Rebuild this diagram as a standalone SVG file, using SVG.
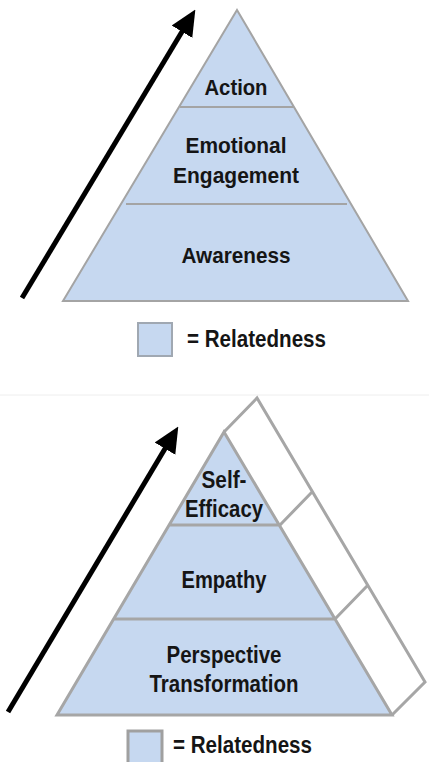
<svg xmlns="http://www.w3.org/2000/svg" width="429" height="762" viewBox="0 0 429 762">
<style>
.blue{fill:#c6d8f0;}
.t{font-family:"Liberation Sans",Arial,sans-serif;font-weight:bold;font-size:22px;fill:#151515;text-anchor:middle;}
.b{font-size:23px;}
.lg{font-family:"Liberation Sans",Arial,sans-serif;font-weight:bold;font-size:24px;fill:#151515;}
.g1{stroke:#a4a4a4;stroke-width:2;fill:none;}
.g2{stroke:#a6a6a6;stroke-width:3;fill:none;stroke-linejoin:miter;}
.arr{stroke:#000;stroke-width:5;fill:none;marker-end:url(#ah);}
</style>
<defs>
<marker id="ah" markerUnits="userSpaceOnUse" markerWidth="26" markerHeight="26" viewBox="0 0 26 26" refX="2" refY="13" orient="auto">
<path d="M0,1 L26,13 L0,25 z" fill="#000"/>
</marker>
</defs>
<rect width="429" height="762" fill="#fff"/>

<g id="top-pyramid">
<path class="blue" d="M237,10 L408,301 L63,301 Z"/>
<path class="g1" d="M237,10 L408,301 L63,301 Z M180,107 L294,107 M126,204 L347,204"/>
</g>
<g id="action"><text class="t" x="236" y="95" textLength="63" lengthAdjust="spacingAndGlyphs">Action</text></g>
<g id="emotional-engagement">
<text class="t" x="236" y="153" textLength="101" lengthAdjust="spacingAndGlyphs">Emotional</text>
<text class="t" x="236" y="183" textLength="126" lengthAdjust="spacingAndGlyphs">Engagement</text>
</g>
<g id="awareness"><text class="t" x="236" y="263" textLength="109" lengthAdjust="spacingAndGlyphs">Awareness</text></g>
<g id="legend-top">
<rect class="blue" x="138" y="323" width="34" height="33" stroke="#a0a8b2" stroke-width="2"/>
<text class="lg" x="187" y="347" textLength="139" lengthAdjust="spacingAndGlyphs">= Relatedness</text>
</g>

<line x1="0" y1="395" x2="429" y2="395" stroke="#eeeeee" stroke-width="1"/>

<g id="bottom-pyramid">
<path class="blue" d="M224,432 L392,715 L57,715 Z"/>
<path class="g2" d="M224,432 L257,398 L425,682 L392,715 M280,525 L313,491 M335,619 L368,585"/>
<path class="g2" d="M224,432 L392,715 L57,715 Z M169,525 L280,525 M114,619 L335,619"/>
</g>
<g id="self-efficacy">
<text class="t b" x="224" y="488" textLength="45" lengthAdjust="spacingAndGlyphs">Self-</text>
<text class="t b" x="224" y="517" textLength="78" lengthAdjust="spacingAndGlyphs">Efficacy</text>
</g>
<g id="empathy"><text class="t b" x="224" y="588" textLength="85" lengthAdjust="spacingAndGlyphs">Empathy</text></g>
<g id="perspective-transformation">
<text class="t b" x="224" y="663" textLength="115" lengthAdjust="spacingAndGlyphs">Perspective</text>
<text class="t b" x="224" y="692" textLength="149" lengthAdjust="spacingAndGlyphs">Transformation</text>
</g>
<g id="legend-bottom">
<rect class="blue" x="128" y="731" width="34" height="34" stroke="#a0a0a0" stroke-width="3"/>
<text class="lg" x="173" y="753" textLength="139" lengthAdjust="spacingAndGlyphs">= Relatedness</text>
</g>

<g id="connectors">
<line class="arr" x1="22" y1="298" x2="183" y2="30"/>
<line class="arr" x1="8" y1="712" x2="166" y2="447"/>
</g>
</svg>
